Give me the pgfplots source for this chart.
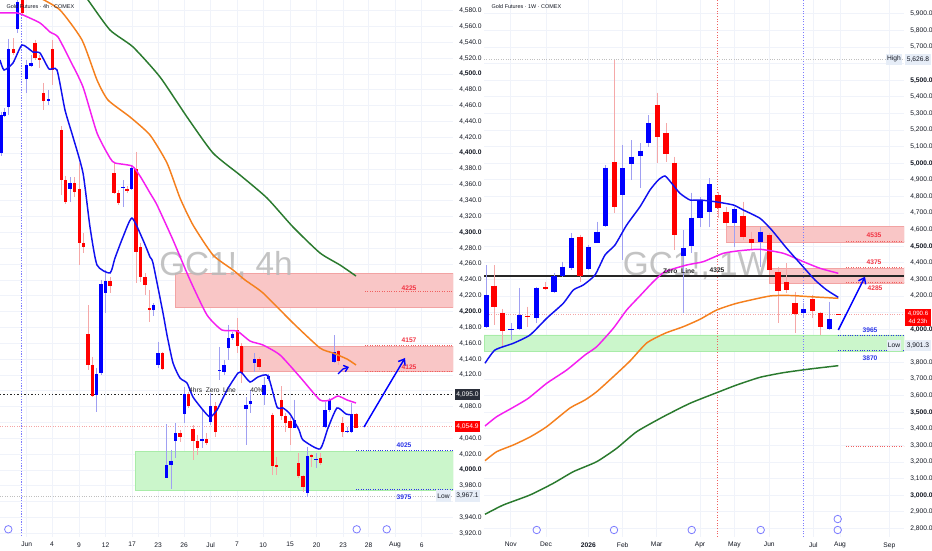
\documentclass[border=0pt]{standalone}
\usepackage{fontspec}
\setmainfont{Liberation Sans}
\usepackage{pgfplots}
\pgfplotsset{compat=1.18}
\usepackage{pgfplotstable}
\usetikzlibrary{arrows.meta}

\definecolor{candr}{HTML}{FF0000}
\definecolor{candb}{HTML}{0000FF}
\definecolor{wickr}{HTML}{F5A8A8}
\definecolor{wickb}{HTML}{A0A0F2}
\definecolor{mablue}{HTML}{1010F0}
\definecolor{mamag}{HTML}{F51EF0}
\definecolor{maor}{HTML}{F5801E}
\definecolor{magr}{HTML}{2A7A2E}
\definecolor{zonered}{HTML}{F9C6C6}
\definecolor{zonereddraw}{HTML}{F2A3A3}
\definecolor{zonegr}{HTML}{CBF6CB}
\definecolor{zonegrdraw}{HTML}{A8ECA8}
\definecolor{gridc}{HTML}{F0F3FA}
\definecolor{tickc}{HTML}{131722}
\definecolor{lblred}{HTML}{F23645}
\definecolor{lblblue}{HTML}{2B35E8}
\definecolor{darkbox}{HTML}{2A2E39}
\definecolor{lightbox}{HTML}{E6EDF7}
\definecolor{wmgray}{HTML}{B9B9B9}
\definecolor{vblue}{HTML}{7C7CFF}
\definecolor{vred}{HTML}{F06060}
\definecolor{palered}{HTML}{F4A5A5}

% left 4h candles: x(px) high low bodytop bodybottom
\pgfplotstableread{
x hi lo top bot
1 4452 4396 4448.2 4400.2
4.3 4457.0 4445.7 4452.0 4446.9
8.7 4544.2 4448.2 4531.5 4458.3
17.3 4600 4551.7 4590.9 4556.8
26.7 4517.6 4476.0 4511.3 4493.7
31 4524.0 4508.8 4513.9 4510.1
48.3 4479.8 4460.8 4467.8 4466.5
70 4369.9 4338.4 4362.3 4354.8
96.7 4128.8 4073.2 4121.2 4094.7
101 4239.9 4119.9 4234.8 4122.4
105.3 4252.5 4198.2 4238.6 4223.5
123 4366.1 4332.0 4356.7 4355.4
131.7 4385.1 4353.5 4381.3 4354.8
153.7 4210.8 4194.4 4208.3 4202.0
158 4161.6 4128.8 4147.7 4132.6
166.7 4058.0 3989.9 4006.3 3989.9
171 4025.3 3976.0 4011.4 4006.3
175.3 4059.3 4015.1 4046.7 4036.6
184.3 4104.8 4059.3 4095.9 4070.7
202 4077.0 4027.8 4039.1 4036.6
210.7 4097.2 4056.8 4080.8 4060.6
219.7 4155.3 4113.6 4126.2 4124.4
224 4138.9 4119.9 4132.6 4123.7
228.3 4183.1 4138.9 4166.6 4154.0
232.7 4174.2 4164.1 4171.7 4166.6
246 4092.1 4031.6 4082.1 4077.0
250.3 4101.0 4072.0 4087.1 4083.3
254.3 4147.7 4123.7 4140.1 4135.1
264 4117.4 4082.1 4107.3 4094.7
268.3 4121.2 4112.4 4118.7 4114.9
294.3 4088.4 4053.0 4063.1 4053.0
307.3 4029.0 3965.9 4017.7 3971.0
316 4021.4 4002.5 4013.9 4012.0
325 4085.8 4053.0 4075.7 4054.3
329.3 4090.9 4073.2 4088.4 4075.7
334 4170.4 4135.1 4149.0 4136.4
347 4054.3 4046.7 4049.8 4048.6
351.3 4084.6 4046.7 4070.7 4048.0
}\upL
\pgfplotstableread{
x hi lo top bot
13.3 4545.4 4524.0 4531.5 4526.5
22.3 4600 4574.5 4597 4577.0
35 4542.9 4517.6 4539.1 4520.2
39.7 4524.0 4507.5 4520.2 4517.6
43.7 4488.6 4454.5 4476.0 4465.9
52.7 4542.9 4486.1 4531.5 4505.0
61.3 4434.3 4347.2 4429.3 4366.1
65.7 4371.2 4335.8 4366.1 4338.4
74.3 4369.9 4344.7 4362.3 4351.0
79.3 4387.6 4258.8 4354.8 4286.6
83.7 4299.2 4274.0 4286.6 4281.5
88 4208.3 4126.2 4171.7 4132.6
92.3 4142.7 4092.1 4132.6 4093.4
110 4243.7 4223.5 4238.6 4232.3
114 4388.9 4348.5 4375.0 4349.7
118.7 4353.5 4334.6 4349.7 4337.1
127 4358.6 4349.7 4354.8 4352.2
136 4401.5 4236.1 4380.0 4275.2
140.7 4286.6 4237.3 4281.5 4243.7
145 4248.7 4220.9 4243.7 4233.6
149.3 4227.3 4186.8 4204.5 4202.0
162.3 4149.0 4126.2 4147.7 4127.5
180 4050.5 4035.3 4046.7 4041.6
188.7 4098.5 4078.3 4095.9 4080.8
193 4056.8 4012.6 4051.7 4036.6
197.3 4044.2 4018.9 4036.6 4027.8
206.7 4046.7 4031.6 4039.1 4034.1
215.3 4085.8 4041.6 4080.8 4048.0
237.3 4191.9 4147.7 4176.7 4156.6
241.7 4160.3 4109.8 4156.6 4122.4
259 4142.7 4126.2 4140.1 4130.0
272.7 4072.0 3993.7 4069.4 4005.0
276.7 4016.4 3993.7 4006.3 4004.4
281.3 4106.0 4063.1 4088.4 4068.2
285.7 4072.0 4048.0 4068.2 4059.3
290 4066.9 4031.6 4061.8 4053.0
298.7 4021.4 3989.9 4008.8 3992.4
303 3993.7 3972.2 3992.4 3978.5
311.7 4020.2 4003.8 4018.9 4016.4
320.7 4021.4 4006.3 4015.1 4008.8
338.3 4151.5 4132.6 4150.2 4137.6
342.7 4066.9 4041.6 4059.3 4048.0
356 4072.0 4053.0 4070.7 4053.0
}\downL
% right 1W candles
\pgfplotstableread{
x hi lo top bot
486 4387.3 4010 4206.6 4015.7
511 4037.9 3935.5 4001.8 3995.8
519.7 4248.8 3995.8 4086.1 4001.8
536.7 4256.6 4036.1 4250.6 4066.3
554 4337.3 4216.9 4321.1 4222.9
562.3 4407.2 4316.9 4377.1 4321.1
571.3 4578.3 4357.2 4548.2 4367.4
588.7 4507.8 4357.2 4494.0 4361.4
597 4648.2 4518.1 4587.9 4521.7
605.7 4989.7 4618.1 4973.5 4624.1
622.7 5110.2 4417.5 4969.9 4809.0
631.7 5140.3 4899.4 5039.7 4995.8
640.7 5120.4 4849.4 5075.9 5044.0
648.3 5290.9 5100.0 5240.9 5120.4
683.3 4598.2 4096.4 4488.0 4443.4
691.7 4822.9 4457.8 4672.3 4501.8
700 4798.8 4618.1 4778.9 4668.6
709.3 4909.6 4618.1 4873.5 4704.8
734.7 4734.9 4497.6 4722.9 4638.6
760.3 4618.1 4377.1 4587.9 4527.7
803.7 4156.6 4066.3 4120.5 4096.4
829.3 4166.2 3995.8 4062.0 4000.0
}\upR
\pgfplotstableread{
x hi lo top bot
494 4387.3 4025.9 4262.6 4136.1
502.7 4122.3 3895.2 4096.4 3989.7
527.7 4136.1 4015.7 4083.1 4077.1
545.3 4286.7 4236.7 4253.0 4241.0
580 4568.1 4286.7 4557.8 4322.9
614.3 5622.3 4698.8 5006.0 4738.5
657.3 5425.3 4999.9 5351.2 5156.6
666 5240.9 5009.6 5180.7 5056.0
674.3 5039.7 4477.7 5003.6 4568.1
718 4827.1 4670.5 4806.0 4730.7
726 4738.5 4527.7 4708.4 4638.6
743 4768.7 4537.9 4682.5 4557.8
751.7 4587.9 4477.7 4543.9 4518.1
769.3 4578.3 4337.3 4568.1 4357.2
778 4377.1 4039.7 4347.0 4232.5
786.3 4397.6 4216.9 4283.1 4236.7
795 4226.5 3975.9 4156.6 4090.4
812.3 4206.6 4066.3 4180.7 4110.2
820.7 4106.0 3965.7 4100.0 4015.7
838.3 4090.4 4084.4 4090.4 4084.4
}\downR

\pgfplotsset{
  tv/.style={
    scale only axis, height=402.75pt,
    axis line style={draw=none}, major tick length=0pt, minor tick length=0pt,
    grid=both, grid style={draw=gridc, line width=0.6pt},
    minor grid style={draw=gridc, line width=0.6pt},
    clip mode=individual,
    yticklabel pos=right,
    ticklabel style={font=\fontsize{5}{6}\selectfont, text=tickc},
    yticklabel style={anchor=west, xshift=1.2pt},
    xticklabel style={anchor=north, yshift=-0.5pt},
  },
  wick/.style={draw=none, mark=none,
    /pgfplots/error bars/y dir=minus, /pgfplots/error bars/y explicit,
    /pgfplots/error bars/error mark=none,
    /pgfplots/error bars/error bar style={draw=#1, line width=0.75pt}},
  body/.style 2 args={draw=none, mark=none,
    /pgfplots/error bars/y dir=minus, /pgfplots/error bars/y explicit,
    /pgfplots/error bars/error mark=none,
    /pgfplots/error bars/error bar style={draw=#1, line width=#2}},
  ma/.style={draw=#1, line width=1.1pt, mark=none, smooth, tension=0.35},
}
\tikzset{
  lbl/.style={font=\fontsize{5}{6}\selectfont\bfseries},
  box/.style={font=\fontsize{5}{6}\selectfont, inner sep=0.8pt, minimum width=19pt, minimum height=8.5pt},
}

\begin{document}
\begin{tikzpicture}
\path[use as bounding box, fill=white] (0,0) rectangle (699pt,412.5pt);

% ================= LEFT: 4h =================
\begin{axis}[tv, at={(0pt,412.5pt)}, anchor=north west, width=339.75pt,
  xmin=0, xmax=453, ymin=3915.4, ymax=4593.4,
  xtick={26.7,52,79,105.7,132,158,184,210.7,237,263,290,316.7,343,368.7,395,421.7},
  xticklabels={Jun,4,9,12,17,23,26,Jul,7,10,15,20,23,28,Aug,6},
  ytick={3920,3940,3980,4000,4020,4040,4080,4120,4140,4160,4180,4200,4220,4240,4260,4280,4300,4320,4340,4360,4380,4400,4420,4440,4460,4480,4500,4520,4540,4560,4580},
  yticklabels={{3,920.0},{3,940.0},{3,980.0},{\textbf{4,000.0}},{4,020.0},{4,040.0},{4,080.0},{4,120.0},{4,140.0},{4,160.0},{4,180.0},{\textbf{4,200.0}},{4,220.0},{4,240.0},{4,260.0},{4,280.0},{\textbf{4,300.0}},{4,320.0},{4,340.0},{4,360.0},{4,380.0},{\textbf{4,400.0}},{4,420.0},{4,440.0},{4,460.0},{4,480.0},{\textbf{4,500.0}},{4,520.0},{4,540.0},{4,560.0},{4,580.0}},
  minor ytick={3960,4060,4100},
]
% zones
\addplot[fill=zonered, draw=zonereddraw, line width=0.5pt] coordinates {(175,4204.9)(453,4204.9)(453,4248.3)(175,4248.3)(175,4204.9)};
\addplot[fill=zonered, draw=zonereddraw, line width=0.5pt] coordinates {(243,4124.1)(453,4124.1)(453,4156.5)(243,4156.5)(243,4124.1)};
\addplot[fill=zonegr, draw=zonegrdraw, line width=0.5pt] coordinates {(135,3973.8)(453,3973.8)(453,4023.1)(135,4023.1)(135,3973.8)};
% watermark
\node[font=\fontsize{25}{25}\selectfont, text=wmgray, text opacity=0.85] at (226,4257.5) {GC1!, 4h};
% horizontal / vertical lines
\addplot[draw=vblue, line width=0.8pt, dash pattern=on 0.9pt off 1.1pt] coordinates {(21.7,3900)(21.7,4600)};
\addplot[draw=palered, line width=0.5pt, dash pattern=on 0.8pt off 1pt] coordinates {(0,4054.9)(453,4054.9)};
\addplot[draw=black!25, line width=0.5pt, dash pattern=on 0.8pt off 1pt] coordinates {(0,3967.1)(453,3967.1)};
\addplot[draw=black!85, line width=0.9pt, dash pattern=on 1pt off 1.6pt] coordinates {(0,4095)(453,4095)};
\addplot[draw=vred, line width=0.6pt, dash pattern=on 0.8pt off 1pt] coordinates {(365,4225)(453,4225)};
\addplot[draw=vred, line width=0.6pt, dash pattern=on 0.8pt off 1pt] coordinates {(365,4157)(453,4157)};
\addplot[draw=vred, line width=0.6pt, dash pattern=on 0.8pt off 1pt] coordinates {(365,4125)(453,4125)};
\addplot[draw=lblblue, line width=0.6pt, dash pattern=on 0.8pt off 1pt] coordinates {(356,4025)(453,4025)};
\addplot[draw=lblblue, line width=0.6pt, dash pattern=on 0.8pt off 1pt] coordinates {(356,3975)(453,3975)};
% candles
\addplot[wick=wickb] table[x=x, y=hi, y error minus expr=\thisrow{hi}-\thisrow{lo}] {\upL};
\addplot[wick=wickr] table[x=x, y=hi, y error minus expr=\thisrow{hi}-\thisrow{lo}] {\downL};
\addplot[body={candb}{2.3pt}] table[x=x, y=top, y error minus expr=\thisrow{top}-\thisrow{bot}] {\upL};
\addplot[body={candr}{2.3pt}] table[x=x, y=top, y error minus expr=\thisrow{top}-\thisrow{bot}] {\downL};
% moving averages
\addplot[ma=magr] coordinates {(85,4597.2)(88,4593.4)(110,4555.5)(133,4534.1)(160,4496.2)(187,4445.7)(213,4400.2)(240,4372.4)(267,4343.4)(293,4306.8)(320,4274.0)(340,4258.8)(356,4244.9)};
\addplot[ma=maor] coordinates {(40,4596)(60,4580.8)(82,4542.9)(97,4492.4)(108,4467.1)(130,4445.7)(150,4422.9)(167,4387.6)(180,4343.4)(193,4309.3)(213,4271.4)(233,4252.5)(245,4239.9)(263,4223.5)(293,4185.6)(320,4154.0)(333,4147.7)(347,4140.1)(356,4132.6)};
\addplot[ma=mamag] coordinates {(0,4577.0)(17,4577.0)(23,4574.5)(40,4564.4)(50,4553.0)(58,4546.7)(70,4517.6)(83,4483.6)(97,4425.5)(110,4393.9)(115,4387.6)(132,4383.8)(140,4371.2)(150,4349.7)(157,4334.6)(173,4290.4)(190,4239.9)(207,4195.7)(222,4176.7)(237,4175.5)(250,4162.8)(263,4157.8)(280,4145.2)(300,4117.4)(320,4088.4)(330,4088.4)(338,4093.4)(347,4088.4)(356,4084.6)};
\addplot[ma=mablue] coordinates {(0,4517.6)(4,4505.0)(13,4513.9)(22,4536.6)(33,4527.7)(40,4526.5)(49,4506.3)(57,4505.0)(65,4454.5)(73,4420.4)(83,4375.0)(90,4306.8)(97,4258.8)(110,4248.7)(115,4267.6)(123,4294.2)(132,4318.1)(143,4290.4)(150,4268.9)(153,4261.3)(163,4198.2)(167,4170.4)(173,4135.1)(180,4116.1)(187,4109.8)(193,4092.1)(203,4075.7)(210,4066.9)(217,4075.7)(227,4101.0)(238,4122.4)(242,4122.4)(250,4111.1)(258,4117.4)(268,4118.7)(277,4079.5)(283,4078.3)(290,4070.7)(299,4050.5)(303,4037.9)(320,4026.5)(328,4053.0)(337,4078.3)(346,4070.7)(353,4069.4)};
% drawn arrows
\addplot[draw=candb, line width=1.1pt, smooth, -{Straight Barb[length=4pt,width=6pt]}] coordinates {(364,4054.2)(380,4088.4)(393,4116.1)(405,4141.4)};
\addplot[draw=candb, line width=1.0pt, -{Straight Barb[length=3pt,width=5pt]}] coordinates {(338,4121.2)(343,4127.5)(349,4130.0)};
% bottom icons
\addplot[only marks, mark=o, mark size=2.8pt, mark options={draw=vblue, line width=0.6pt, fill=white}] coordinates {(8.3,3925.1)(356.7,3925.1)(386.7,3925.1)};
% texts
\node[anchor=west, font=\fontsize{4.1}{5}\selectfont, text=tickc] at (2,4584.6) {Gold Futures · 4h · COMEX};
\node[font=\fontsize{5}{6}\selectfont, text=black!85] at (212.5,4101) {4hrs\ \ Zero\ \ Line};
\node[font=\fontsize{5}{6}\selectfont, text=black!85] at (257,4101) {40\%};
\node[lbl, text=lblred] at (409,4230) {4225};
\node[lbl, text=lblred] at (409,4164) {4157};
\node[lbl, text=lblred] at (409,4130.4) {4125};
\node[lbl, text=lblblue] at (404,4031.6) {4025};
\node[lbl, text=lblblue] at (404,3965.9) {3975};
% price scale boxes
\node[box, fill=darkbox, text=white] at (467.5,4095) {4,095.0};
\node[box, fill=candr, text=white] at (467.5,4054.9) {4,054.9};
\node[box, fill=lightbox, text=tickc] at (467.5,3967.1) {3,967.1};
\node[box, fill=lightbox, text=tickc, minimum width=9pt] at (443.5,3967.1) {Low};
\end{axis}

% ================= RIGHT: 1W =================
\begin{axis}[tv, at={(363pt,412.5pt)}, anchor=north west, width=315pt,
  xmin=484, xmax=904, ymin=2748.8, ymax=5983.7,
  xtick={510.7,546,588.3,622.7,656.7,700,734.3,769.3,813.3,840,889.3},
  xticklabels={Nov,Dec,{\textbf{2026}},Feb,Mar,Apr,May,Jun,Jul,Aug,Sep},
  ytick={2800,2900,3000,3100,3200,3300,3400,3500,3600,3700,3800,4000,4200,4300,4400,4500,4600,4700,4800,4900,5000,5100,5200,5300,5400,5500,5700,5800,5900},
  yticklabels={{2,800.0},{2,900.0},{\textbf{3,000.0}},{3,100.0},{3,200.0},{3,300.0},{3,400.0},{\textbf{3,500.0}},{3,600.0},{3,700.0},{3,800.0},{\textbf{4,000.0}},{4,200.0},{4,300.0},{4,400.0},{\textbf{4,500.0}},{4,600.0},{4,700.0},{4,800.0},{4,900.0},{\textbf{5,000.0}},{5,100.0},{5,200.0},{5,300.0},{5,400.0},{\textbf{5,500.0}},{5,700.0},{5,800.0},{5,900.0}},
  minor ytick={3900,4100,5600},
]
% zones
\addplot[fill=zonered, draw=zonereddraw, line width=0.5pt] coordinates {(726,4521.7)(904,4521.7)(904,4618)(726,4618)(726,4521.7)};
\addplot[fill=zonered, draw=zonereddraw, line width=0.5pt] coordinates {(769,4277.1)(904,4277.1)(904,4367.5)(769,4367.5)(769,4277.1)};
\addplot[fill=zonegr, draw=zonegrdraw, line width=0.5pt] coordinates {(484,3865)(904,3865)(904,3965.7)(484,3965.7)(484,3865)};
% watermark
\node[font=\fontsize{25}{25}\selectfont, text=wmgray, text opacity=0.85] at (696,4384) {GC1!, 1W};
% lines
\addplot[draw=vred, line width=0.7pt, dash pattern=on 0.9pt off 1.1pt] coordinates {(717.3,2700)(717.3,6000)};
\addplot[draw=vblue, line width=0.8pt, dash pattern=on 0.9pt off 1.1pt] coordinates {(803.3,2700)(803.3,6000)};
\addplot[draw=black!25, line width=0.5pt, dash pattern=on 0.8pt off 1pt] coordinates {(484,5626.8)(904,5626.8)};
\addplot[draw=palered, line width=0.5pt, dash pattern=on 0.8pt off 1pt] coordinates {(484,4090.6)(904,4090.6)};
\addplot[draw=black!85, line width=0.8pt] coordinates {(484,4321)(904,4321)};
\addplot[draw=vred, line width=0.6pt, dash pattern=on 0.8pt off 1pt] coordinates {(846,4532)(904,4532)};
\addplot[draw=vred, line width=0.6pt, dash pattern=on 0.8pt off 1pt] coordinates {(846,4373)(904,4373)};
\addplot[draw=vred, line width=0.6pt, dash pattern=on 0.8pt off 1pt] coordinates {(846,4281)(904,4281)};
\addplot[draw=vred, line width=0.6pt, dash pattern=on 0.8pt off 1pt] coordinates {(846,3293)(904,3293)};
\addplot[draw=lblblue, line width=0.6pt, dash pattern=on 0.8pt off 1pt] coordinates {(838,3965)(904,3965)};
\addplot[draw=lblblue, line width=0.6pt, dash pattern=on 0.8pt off 1pt] coordinates {(838,3870)(904,3870)};
% candles
\addplot[wick=wickb] table[x=x, y=hi, y error minus expr=\thisrow{hi}-\thisrow{lo}] {\upR};
\addplot[wick=wickr] table[x=x, y=hi, y error minus expr=\thisrow{hi}-\thisrow{lo}] {\downR};
\addplot[body={candb}{4pt}] table[x=x, y=top, y error minus expr=\thisrow{top}-\thisrow{bot}] {\upR};
\addplot[body={candr}{4pt}] table[x=x, y=top, y error minus expr=\thisrow{top}-\thisrow{bot}] {\downR};
% moving averages
\addplot[ma=magr] coordinates {(485,2885.5)(503.3,2941.6)(530,3001.9)(553.3,3072.3)(573.3,3142.2)(596.7,3202.5)(616.7,3283.2)(636.7,3383.2)(663.3,3473.5)(690,3554.2)(716.7,3618.1)(736.7,3664.5)(760,3710.8)(783.3,3738.6)(810,3760.9)(838.3,3780.8)};
\addplot[ma=maor] coordinates {(485,3208.5)(496.7,3262.7)(513.3,3303.0)(530,3351.2)(546.7,3413.3)(570,3525.9)(585,3574.1)(596.7,3624.1)(613.3,3714.4)(630,3809.0)(646.7,3917.5)(665,3975.9)(683.3,4015.7)(700,4060.3)(716.7,4116.3)(736.7,4156.6)(770,4200.6)(790,4203.6)(810,4196.4)(838.3,4186.7)};
\addplot[ma=mamag] coordinates {(485,3417.5)(496.7,3473.5)(513.3,3530.1)(528.3,3584.3)(546.7,3674.7)(566.7,3754.8)(585,3845.2)(596.7,3895.2)(613.3,4006.0)(626.7,4116.3)(640,4201.8)(653.3,4286.7)(665,4347.0)(686.7,4387.3)(703.3,4407.5)(723.3,4457.8)(740,4473.5)(760,4481.8)(783.3,4457.8)(803.3,4407.5)(820,4367.4)(838.3,4337.3)};
\addplot[ma=mablue] coordinates {(485,3795.2)(495,3875.3)(513.3,3915.7)(530,3965.7)(546.7,4066.3)(563.3,4156.6)(573.3,4236.7)(583.3,4266.9)(595,4327.1)(605,4447.6)(615,4507.8)(626.7,4628.3)(640,4738.5)(650,4839.1)(658.3,4899.4)(665,4923.5)(671.7,4879.3)(680,4819.0)(690,4778.9)(700,4778.9)(715,4768.7)(733.3,4748.8)(743.3,4718.6)(760,4668.6)(771.7,4598.2)(786.7,4488.0)(800,4397.6)(815,4297.0)(826.7,4236.7)(838.3,4192.7)};
% arrow
\addplot[draw=candb, line width=1.1pt, -{Straight Barb[length=4pt,width=6pt]}] coordinates {(838.3,3995.8)(865,4316.9)};
% bottom icons
\addplot[only marks, mark=o, mark size=2.8pt, mark options={draw=vblue, line width=0.6pt, fill=white}] coordinates {(536.7,2791)(614,2791)(691.7,2791)(760.7,2791)(837.7,2791)(837.7,2857)};
% texts
\node[anchor=west, font=\fontsize{4.1}{5}\selectfont, text=tickc] at (487,5941.5) {Gold Futures · 1W · COMEX};
\node[font=\fontsize{5}{6}\selectfont\bfseries, text=black!85] at (679,4353) {Zero\ \ Line};
\node[font=\fontsize{5}{6}\selectfont\bfseries, text=black!85] at (717,4353) {4325};
\node[lbl, text=lblred] at (874,4568) {4535};
\node[lbl, text=lblred] at (874,4405) {4375};
\node[lbl, text=lblred] at (875,4246) {4285};
\node[lbl, text=lblblue] at (870,3991.6) {3965};
\node[lbl, text=lblblue] at (870,3825.3) {3870};
% price scale boxes
\node[box, fill=lightbox, text=tickc] at (918,5626.8) {5,626.8};
\node[box, fill=lightbox, text=tickc, minimum width=9pt] at (894,5626.8) {High};
\node[box, fill=candr, text=white, align=center, minimum height=13pt, font=\fontsize{4.6}{5.4}\selectfont] at (918,4072) {4,090.6\\4d 23h};
\node[box, fill=lightbox, text=tickc] at (918,3901.3) {3,901.3};
\node[box, fill=lightbox, text=tickc, minimum width=9pt] at (894,3901.3) {Low};
\end{axis}
\end{tikzpicture}
\end{document}
